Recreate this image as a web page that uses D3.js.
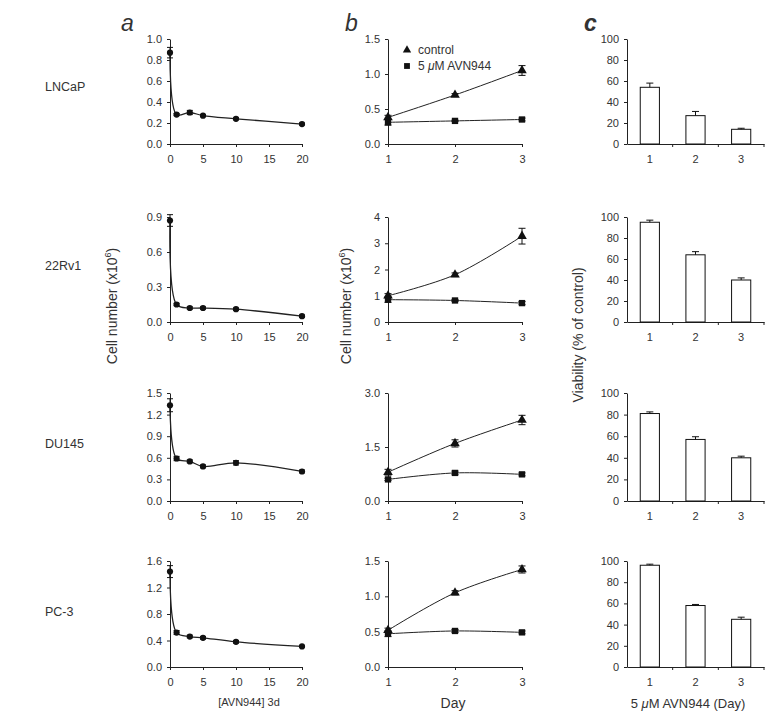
<!DOCTYPE html>
<html><head><meta charset="utf-8">
<script src="https://cdn.jsdelivr.net/npm/d3@7"></script>
<style>
body{margin:0;background:#fff;}
text{font-family:Arial,"Liberation Sans",sans-serif;fill:#333;}
</style></head>
<body>
<svg id="chart" width="783" height="721"></svg>
<script>
// ---------- data ----------
const cellLines = ["LNCaP", "22Rv1", "DU145", "PC-3"];

// panel a: dose response, 3 days
const doses = [0, 1, 3, 5, 10, 20];
const doseLNCaP = [0.87, 0.28, 0.30, 0.27, 0.24, 0.19];
const doseLNCaPErr = [0.05, 0.01, 0.02, 0.01, 0.01, 0.01];
const dose22Rv1 = [0.87, 0.15, 0.12, 0.12, 0.11, 0.05];
const dose22Rv1Err = [0.05, 0.01, 0.01, 0.01, 0.01, 0.01];
const doseDU145 = [1.33, 0.59, 0.55, 0.48, 0.53, 0.41];
const doseDU145Err = [0.09, 0.03, 0.02, 0.02, 0.03, 0.02];
const dosePC3 = [1.44, 0.52, 0.46, 0.44, 0.38, 0.31];
const dosePC3Err = [0.09, 0.03, 0.02, 0.02, 0.02, 0.01];

// panel b: time course
const days = [1, 2, 3];
const ctrlLNCaP = [0.38, 0.70, 1.05];
const ctrlLNCaPErr = [0.03, 0.02, 0.07];
const avnLNCaP = [0.31, 0.33, 0.35];
const avnLNCaPErr = [0.04, 0.01, 0.02];
const ctrl22Rv1 = [1.00, 1.80, 3.27];
const ctrl22Rv1Err = [0.08, 0.07, 0.30];
const avn22Rv1 = [0.85, 0.82, 0.72];
const avn22Rv1Err = [0.10, 0.04, 0.06];
const ctrlDU145 = [0.80, 1.60, 2.25];
const ctrlDU145Err = [0.08, 0.10, 0.13];
const avnDU145 = [0.60, 0.78, 0.74];
const avnDU145Err = [0.03, 0.05, 0.04];
const ctrlPC3 = [0.52, 1.05, 1.38];
const ctrlPC3Err = [0.03, 0.03, 0.05];
const avnPC3 = [0.47, 0.51, 0.49];
const avnPC3Err = [0.04, 0.02, 0.02];

// panel c: viability (% of control)
const dayLabels = ["1", "2", "3"];
const viaLNCaP = [54, 27, 14];
const viaLNCaPErr = [4, 4, 1];
const via22Rv1 = [95, 64, 40];
const via22Rv1Err = [2, 3, 2];
const viaDU145 = [81, 57, 40];
const viaDU145Err = [1.5, 2.5, 1.5];
const viaPC3 = [96, 58, 45];
const viaPC3Err = [1, 1, 2];

// axis settings per row
const aYMax = [1.0, 0.9, 1.5, 1.6];
const aYStep = [0.2, 0.3, 0.3, 0.4];
const bYStep = [0.5, 1, 1.5, 0.5];
const bYFmt = [".1f", "d", ".1f", ".1f"];
const bYMaxReal = [1.5, 4, 3.0, 1.5];
const aXTicks = [0, 5, 10, 15, 20];
const cYTicks = [0, 20, 40, 60, 80, 100];

const aSeries = [[doseLNCaP, doseLNCaPErr],[dose22Rv1, dose22Rv1Err],[doseDU145, doseDU145Err],[dosePC3, dosePC3Err]];
const bCtrl = [[ctrlLNCaP, ctrlLNCaPErr],[ctrl22Rv1, ctrl22Rv1Err],[ctrlDU145, ctrlDU145Err],[ctrlPC3, ctrlPC3Err]];
const bAvn = [[avnLNCaP, avnLNCaPErr],[avn22Rv1, avn22Rv1Err],[avnDU145, avnDU145Err],[avnPC3, avnPC3Err]];
const cSeries = [[viaLNCaP, viaLNCaPErr],[via22Rv1, via22Rv1Err],[viaDU145, viaDU145Err],[viaPC3, viaPC3Err]];

// ---------- layout ----------
const svg = d3.select("#chart");
const rows = [[39,144],[217,322],[393,501],[561,667]];
const colA = [170, 302], colB = [388, 522], colC = [627, 764];
const rowLabelY = [91, 270, 448, 616];

function styleAxis(g){
  g.select(".domain").attr("stroke","#222").attr("stroke-width",1);
  g.selectAll(".tick line").attr("stroke","#222");
  g.selectAll(".tick text").attr("font-size","11px").attr("fill","#333")
   .attr("font-family","Arial, 'Liberation Sans', sans-serif");
}
function ticksRange(max, step){
  const n = Math.round(max/step); const t=[];
  for(let i=0;i<=n;i++) t.push(+(i*step).toFixed(3));
  return t;
}
const curve = d3.curveCatmullRom.alpha(0.5);

function errBars(g, xs, ys, es, x, y, cap){
  xs.forEach((xv,i)=>{
    const cx = x(xv);
    g.append("line").attr("x1",cx).attr("x2",cx).attr("y1",y(ys[i]-es[i])).attr("y2",y(ys[i]+es[i])).attr("stroke","#111");
    [ys[i]-es[i], ys[i]+es[i]].forEach(v=>{
      g.append("line").attr("x1",cx-cap).attr("x2",cx+cap).attr("y1",y(v)).attr("y2",y(v)).attr("stroke","#111");
    });
  });
}

rows.forEach((r, ri)=>{
  svg.append("text").attr("x",45).attr("y",rowLabelY[ri]).attr("font-size","12.5px").attr("fill","#333").text(cellLines[ri]);

  // ---- panel a ----
  {
    const x = d3.scaleLinear().domain([0,20]).range(colA);
    const y = d3.scaleLinear().domain([0,aYMax[ri]]).range([r[1], r[0]]);
    const g = svg.append("g");
    const xa = g.append("g").attr("transform",`translate(0,${r[1]})`)
      .call(d3.axisBottom(x).tickValues(aXTicks).tickSize(3).tickSizeOuter(0).tickPadding(8).tickFormat(d3.format("d")));
    styleAxis(xa);
    const ya = g.append("g").attr("transform",`translate(${colA[0]},0)`)
      .call(d3.axisLeft(y).tickValues(ticksRange(aYMax[ri],aYStep[ri])).tickSize(3).tickSizeOuter(0).tickPadding(5).tickFormat(d3.format(".1f")));
    styleAxis(ya);
    const [vals, errs] = aSeries[ri];
    g.append("path").datum(doses.map((d,i)=>[d,vals[i]]))
      .attr("d", d3.line().x(d=>x(d[0])).y(d=>y(d[1])).curve(curve))
      .attr("fill","none").attr("stroke","#222").attr("stroke-width",1.3);
    errBars(g, doses, vals, errs, x, y, 3);
    g.selectAll("circle.m").data(doses).join("circle").attr("cx",d=>x(d)).attr("cy",(d,i)=>y(vals[i])).attr("r",3.1).attr("fill","#111");
  }

  // ---- panel b ----
  {
    const x = d3.scaleLinear().domain([1,3]).range(colB);
    const y = d3.scaleLinear().domain([0,bYMaxReal[ri]]).range([r[1], r[0]]);
    const g = svg.append("g");
    const xa = g.append("g").attr("transform",`translate(0,${r[1]})`)
      .call(d3.axisBottom(x).tickValues(days).tickSize(3).tickSizeOuter(0).tickPadding(8).tickFormat(d3.format("d")));
    styleAxis(xa);
    const ya = g.append("g").attr("transform",`translate(${colB[0]},0)`)
      .call(d3.axisLeft(y).tickValues(ticksRange(bYMaxReal[ri],bYStep[ri])).tickSize(3).tickSizeOuter(0).tickPadding(5).tickFormat(d3.format(bYFmt[ri])));
    styleAxis(ya);
    const line = d3.line().x(d=>x(d[0])).y(d=>y(d[1])).curve(curve);
    [bCtrl[ri], bAvn[ri]].forEach(([vals,errs], si)=>{
      g.append("path").datum(days.map((d,i)=>[d,vals[i]])).attr("d",line)
        .attr("fill","none").attr("stroke","#222").attr("stroke-width",1);
      errBars(g, days, vals, errs, x, y, 3.5);
      const sym = d3.symbol().type(si===0?d3.symbolTriangle:d3.symbolSquare).size(40);
      g.selectAll(null).data(days).join("path")
        .attr("transform",(d,i)=>`translate(${x(d)},${y(vals[i])})`)
        .attr("d",sym()).attr("fill","#111");
    });
    if(ri===0){
      const lg = svg.append("g");
      lg.append("path").attr("transform","translate(407,50)").attr("d",d3.symbol().type(d3.symbolTriangle).size(30)()).attr("fill","#111");
      lg.append("text").attr("x",418).attr("y",54).attr("font-size","12px").text("control");
      lg.append("path").attr("transform","translate(407,66)").attr("d",d3.symbol().type(d3.symbolSquare).size(34)()).attr("fill","#111");
      const t = lg.append("text").attr("x",418).attr("y",70).attr("font-size","12px");
      t.append("tspan").text("5 ");
      t.append("tspan").attr("font-style","italic").text("\u03bc");
      t.append("tspan").text("M AVN944");
    }
  }

  // ---- panel c ----
  {
    const x = d3.scaleBand().domain(dayLabels).range(colC).paddingInner(0.58).paddingOuter(0.29);
    const xb = d3.scaleBand().domain(dayLabels).range(colC);
    const y = d3.scaleLinear().domain([0,100]).range([r[1], r[0]]);
    const g = svg.append("g");
    const xa = g.append("g").attr("transform",`translate(0,${r[1]})`)
      .call(d3.axisBottom(xb).tickSize(0).tickPadding(11));
    styleAxis(xa);
    const bounds = [colC[0]+xb.bandwidth(), colC[0]+2*xb.bandwidth(), colC[1]];
    bounds.forEach(bx=>g.append("line").attr("x1",bx).attr("x2",bx).attr("y1",r[1]).attr("y2",r[1]+3).attr("stroke","#222"));
    const ya = g.append("g").attr("transform",`translate(${colC[0]},0)`)
      .call(d3.axisLeft(y).tickValues(cYTicks).tickSize(3).tickSizeOuter(0).tickPadding(5));
    styleAxis(ya);
    const [vals, errs] = cSeries[ri];
    g.selectAll("rect.bar").data(dayLabels).join("rect")
      .attr("x",d=>x(d)).attr("width",x.bandwidth())
      .attr("y",(d,i)=>y(vals[i])).attr("height",(d,i)=>y(0)-y(vals[i]))
      .attr("fill","#fff").attr("stroke","#111").attr("stroke-width",1);
    dayLabels.forEach((d,i)=>{
      const cx = x(d)+x.bandwidth()/2;
      g.append("line").attr("x1",cx).attr("x2",cx).attr("y1",y(vals[i])).attr("y2",y(vals[i]+errs[i])).attr("stroke","#111");
      g.append("line").attr("x1",cx-3.5).attr("x2",cx+3.5).attr("y1",y(vals[i]+errs[i])).attr("y2",y(vals[i]+errs[i])).attr("stroke","#111");
    });
  }
});

// panel letters
svg.append("text").attr("x",121).attr("y",31).attr("font-size","23px").attr("font-style","italic").attr("fill","#111").text("a");
svg.append("text").attr("x",345).attr("y",31).attr("font-size","23px").attr("font-style","italic").attr("fill","#111").text("b");
svg.append("text").attr("x",584).attr("y",31).attr("font-size","23px").attr("font-style","italic").attr("font-weight","bold").attr("fill","#111").text("c");

// axis titles
function cellTitle(cx, cy){
  const t = svg.append("text").attr("transform",`translate(${cx},${cy}) rotate(-90)`).attr("text-anchor","middle").attr("font-size","14px");
  t.append("tspan").text("Cell number (x10");
  t.append("tspan").attr("font-size","9px").attr("dy","-6").text("6");
  t.append("tspan").attr("dy","6").text(")");
}
cellTitle(117, 306);
cellTitle(351, 306);
svg.append("text").attr("transform","translate(583,335) rotate(-90)").attr("text-anchor","middle").attr("font-size","14px").text("Viability (% of control)");

svg.append("text").attr("x",249).attr("y",706).attr("text-anchor","middle").attr("font-size","11px").text("[AVN944] 3d");
svg.append("text").attr("x",453).attr("y",708).attr("text-anchor","middle").attr("font-size","14px").text("Day");
{
  const t = svg.append("text").attr("x",688).attr("y",708).attr("text-anchor","middle").attr("font-size","13px");
  t.append("tspan").text("5 ");
  t.append("tspan").attr("font-style","italic").text("\u03bc");
  t.append("tspan").text("M AVN944 (Day)");
}
</script>
</body></html>
